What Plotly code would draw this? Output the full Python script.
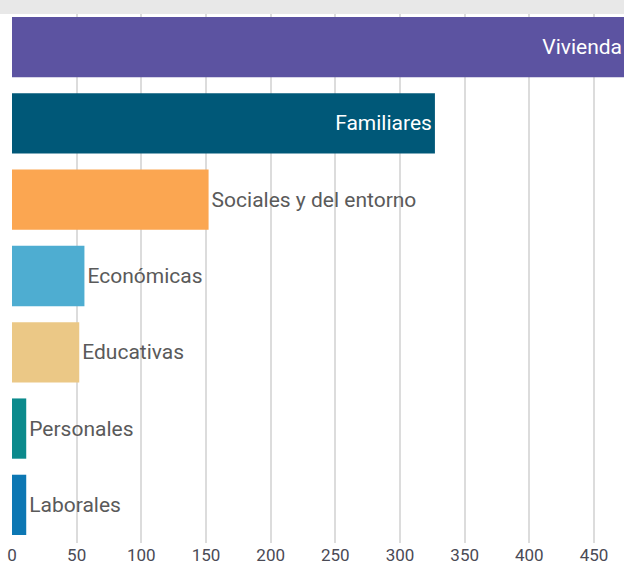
import plotly.graph_objects as go

categories = ["Vivienda", "Familiares", "Sociales y del entorno", "Económicas",
              "Educativas", "Personales", "Laborales"]
values = [474, 327, 152, 56, 52, 11, 11]
colors = ["#5c53a1", "#005878", "#fba651", "#4eadd1", "#ebc886", "#0b8a8c", "#0c77b3"]
text_positions = ["inside", "inside", "outside", "outside", "outside", "outside", "outside"]
tick_vals = [0, 50, 100, 150, 200, 250, 300, 350, 400, 450]

font_family = "Roboto, Liberation Sans, sans-serif"

fig = go.Figure(go.Bar(
    y=categories,
    x=values,
    orientation="h",
    marker=dict(color=colors, line=dict(width=0)),
    text=categories,
    textposition=text_positions,
    insidetextanchor="end",
    insidetextfont=dict(color="white", size=21, family=font_family),
    outsidetextfont=dict(color="#5a5a5a", size=21, family=font_family),
    constraintext="none",
    cliponaxis=True,
    hoverinfo="x+y",
))

fig.update_layout(
    width=624, height=571,
    margin=dict(l=12, r=0, t=9, b=28, autoexpand=False),
    paper_bgcolor="white",
    plot_bgcolor="white",
    bargap=0.21,
    showlegend=False,
    font=dict(family=font_family, color="#4a4a55"),
    xaxis=dict(
        range=[0, 473.2],
        tickvals=tick_vals,
        showgrid=True,
        gridcolor="#dcdcdc",
        gridwidth=2,
        zeroline=False,
        showline=False,
        ticks="",
        automargin=False,
        ticklabeloverflow="allow",
        tickfont=dict(size=17, color="#4a4a55", family=font_family),
        fixedrange=True,
    ),
    yaxis=dict(
        autorange="reversed",
        showticklabels=False,
        showgrid=False,
        zeroline=False,
        automargin=False,
        fixedrange=True,
    ),
    shapes=[dict(
        type="rect", xref="paper", yref="paper",
        x0=-0.03, x1=1.01, y0=0.9906, y1=1.02,
        fillcolor="#e8e8e8", line=dict(width=0), layer="above",
    )],
)

fig.write_html(
    "out.html",
    config={"displayModeBar": False},
    post_script="document.body.style.margin='0';document.body.style.overflow='hidden';",
)
